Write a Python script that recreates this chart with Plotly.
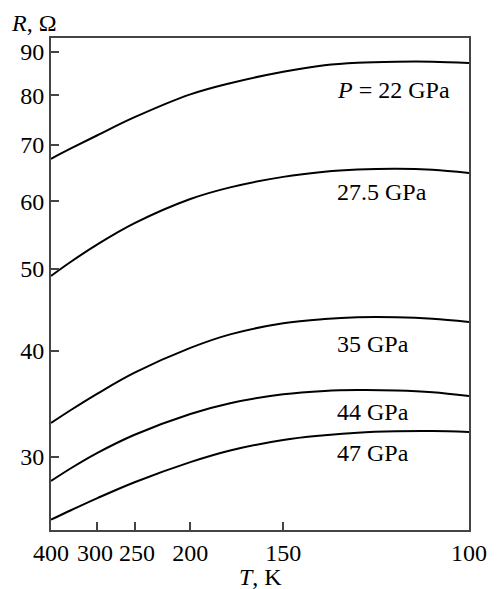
import math
import plotly.graph_objects as go

# Temperatures (K) at which the curves were read
T = [400, 350, 300, 250, 200, 175, 150, 135, 125, 115, 107, 100]

# Resistance (Ohm) for each pressure
R_22 = [67.36, 69.27, 71.80, 75.40, 80.22, 82.69, 85.31, 86.83, 87.42, 87.66, 87.66, 87.35]
R_27_5 = [49.01, 50.94, 53.40, 56.56, 60.39, 62.33, 64.13, 65.02, 65.41, 65.56, 65.37, 64.79]
R_35 = [32.89, 34.07, 35.62, 37.70, 40.32, 41.83, 43.11, 43.61, 43.81, 43.81, 43.63, 43.25]
R_44 = [28.10, 29.09, 30.33, 31.86, 33.71, 34.71, 35.55, 35.88, 35.97, 35.93, 35.76, 35.39]
R_47 = [25.30, 25.96, 26.83, 28.01, 29.58, 30.53, 31.41, 31.81, 32.04, 32.16, 32.18, 32.10]

series = [R_22, R_27_5, R_35, R_44, R_47]
labels = ["<i>P</i> = 22 GPa", "27.5 GPa", "35 GPa", "44 GPa", "47 GPa"]
label_R = [81.2, 61.6, 40.75, 33.9, 30.3]
label_T = 131.5

x_ticks_T = [400, 300, 250, 200, 150, 100]
x_tick_text = ["400", "300\u2009", "\u2009250", "200", "150", "100"]
y_ticks = [30, 40, 50, 60, 70, 80, 90]


def inv(t):
    return 1.0 / t


fig = go.Figure()
for r in series:
    fig.add_trace(go.Scatter(
        x=[inv(t) for t in T], y=r, mode="lines",
        line=dict(color="black", width=2, shape="spline", smoothing=1.0),
        showlegend=False, hoverinfo="skip"))

font = dict(family="Liberation Serif", size=24, color="black")

for lab, ry in zip(labels, label_R):
    fig.add_annotation(x=inv(label_T), y=math.log10(ry), text=lab,
                       showarrow=False, xanchor="left", yanchor="middle", font=font)

fig.add_annotation(xref="paper", yref="paper", x=-0.0762, y=1.0, yshift=15,
                   xshift=-10,
                   text="<i>R</i>, Ω", showarrow=False, xanchor="left",
                   yanchor="middle", font=font)
fig.add_annotation(xref="paper", yref="paper", x=0.501, y=0, yshift=-47,
                   text="<i>T</i>, K", showarrow=False, xanchor="center",
                   yanchor="middle", font=font)

fig.update_layout(
    width=491, height=581,
    margin=dict(l=37, r=21, t=30, b=59),
    paper_bgcolor="white", plot_bgcolor="white",
    font=font,
)
fig.update_xaxes(
    range=[inv(400), inv(100)],
    tickvals=[inv(t) for t in x_ticks_T], ticktext=x_tick_text,
    tickangle=0,
    ticks="inside", ticklen=8, tickwidth=1.5, tickcolor="#444",
    showline=True, linecolor="#444", linewidth=1.8, mirror=True,
    showgrid=False, zeroline=False, tickfont=font,
)
fig.update_yaxes(
    type="log", range=[1.391, 1.9707],
    tickvals=y_ticks, ticktext=[str(v) for v in y_ticks],
    ticks="inside", ticklen=8, tickwidth=1.5, tickcolor="#444",
    showline=True, linecolor="#444", linewidth=1.8, mirror=True,
    showgrid=False, zeroline=False, tickfont=font,
)

fig.write_html("out.html")
